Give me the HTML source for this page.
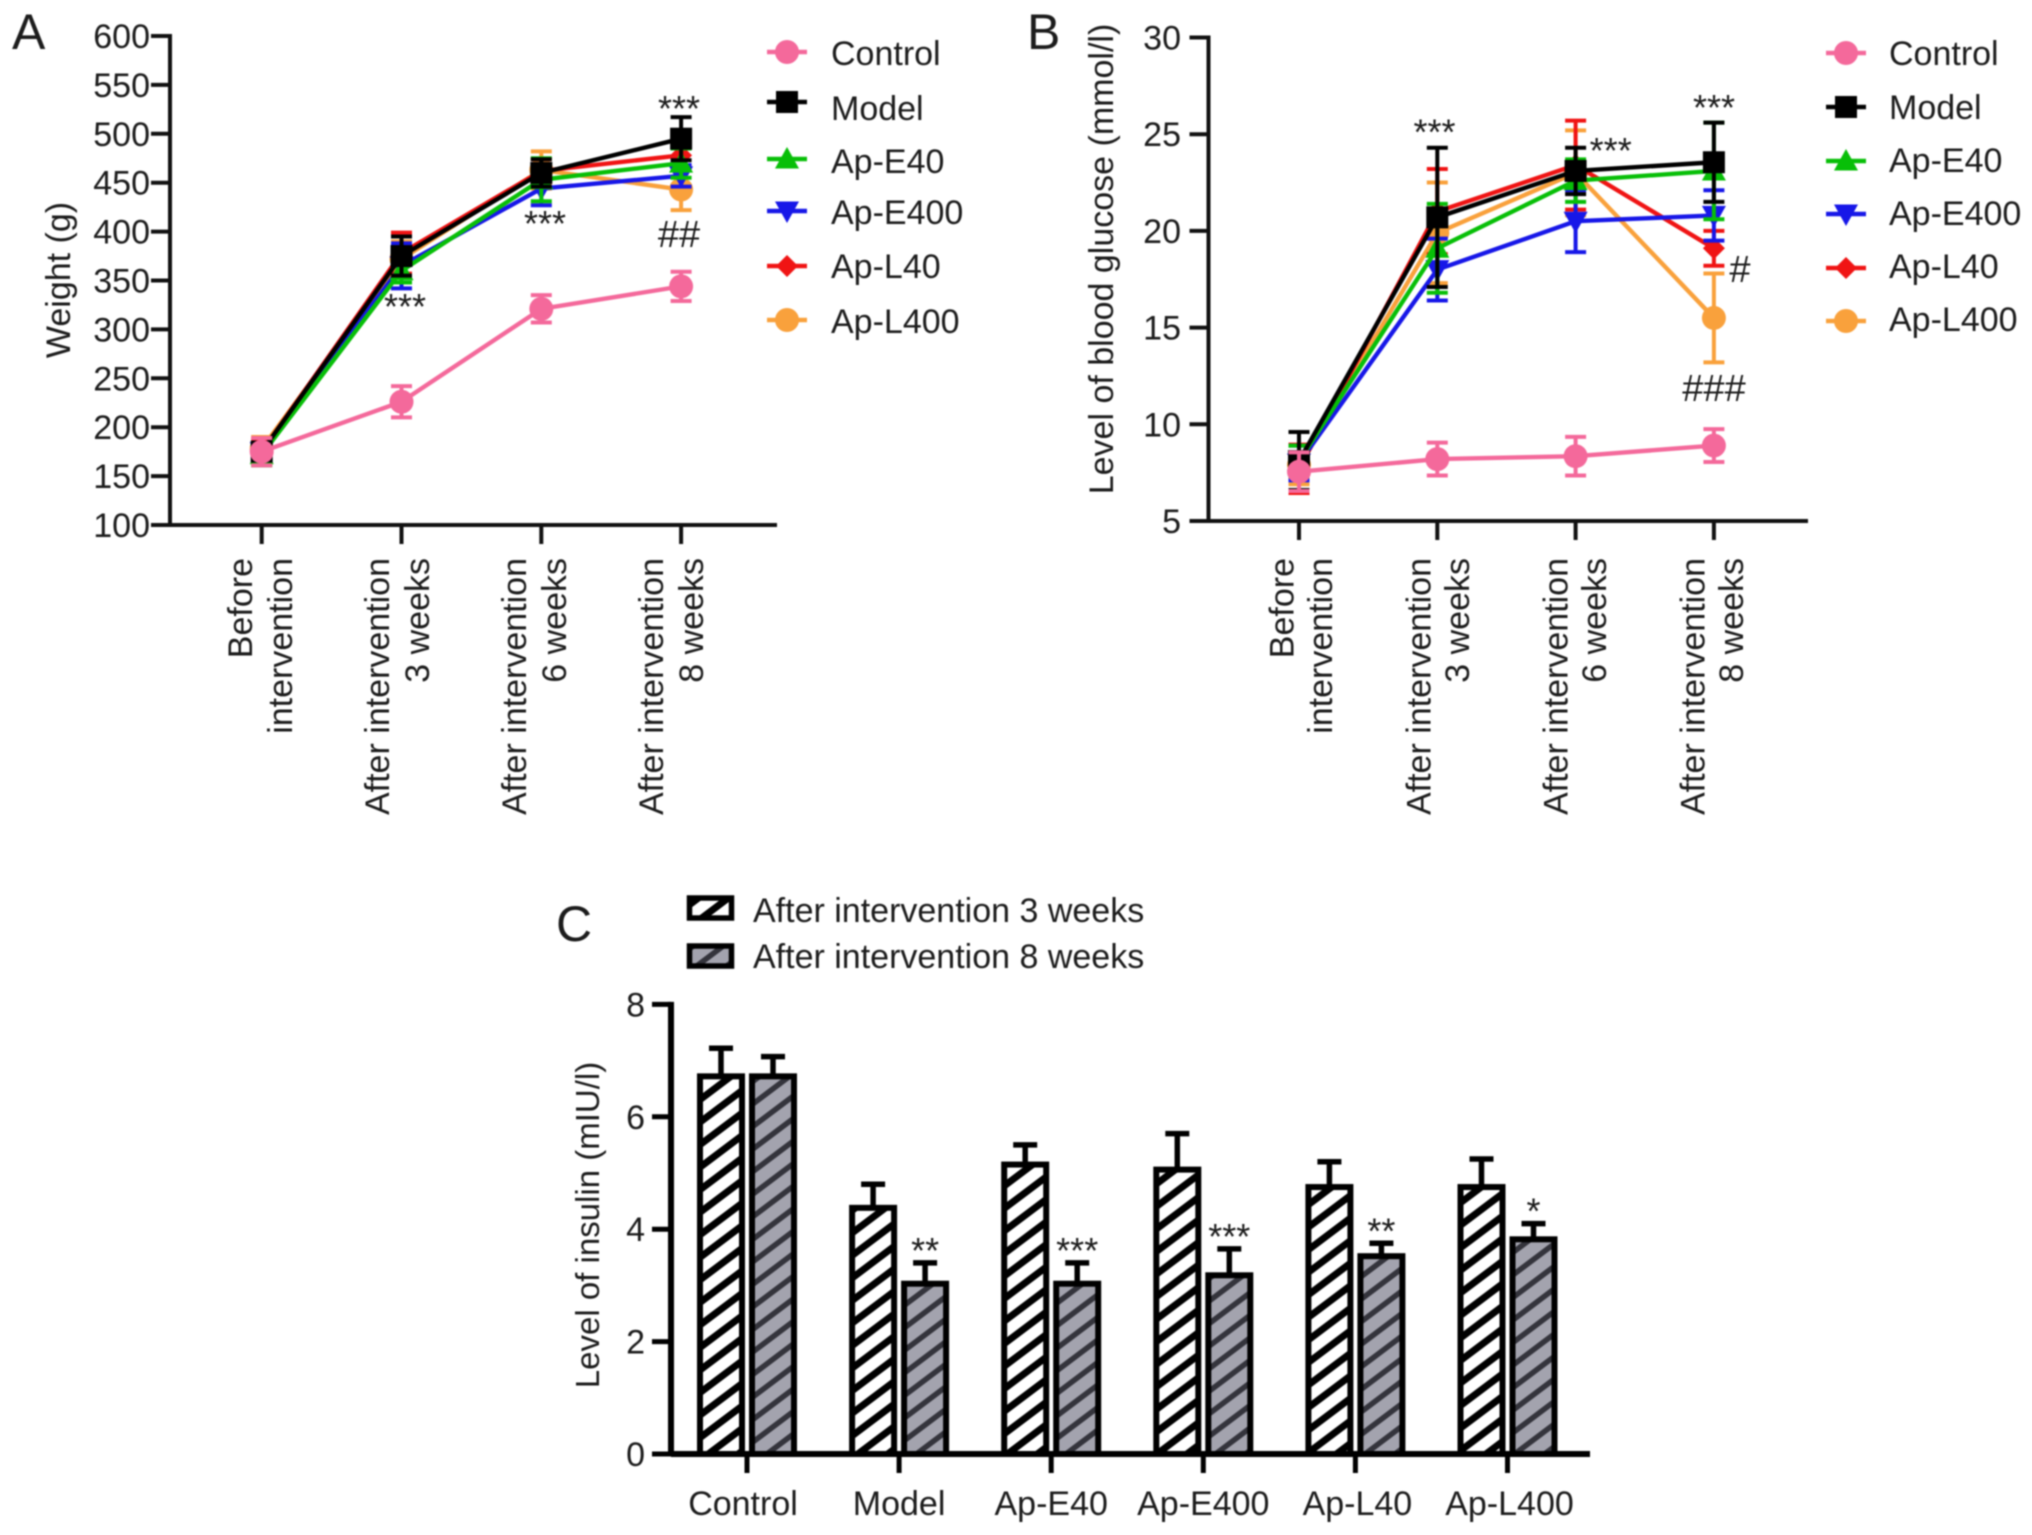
<!DOCTYPE html>
<html lang="en">
<head>
<meta charset="utf-8">
<title>Weight, blood glucose and insulin charts</title>
<style>
html,body{margin:0;padding:0;background:#fff;}
#figure{display:block;width:2032px;height:1535px;filter:blur(0.7px);}
text{font-family:"Liberation Sans",sans-serif;fill:#1c1c1c;font-size:34px;}
</style>
</head>
<body>
<svg id="figure" xmlns="http://www.w3.org/2000/svg" width="2032" height="1535" viewBox="0 0 2032 1535">
  <defs>
    <pattern id="hatch-white" patternUnits="userSpaceOnUse" width="18" height="18" patternTransform="rotate(53)">
      <rect width="18" height="18" fill="#ffffff"/>
      <rect width="7" height="18" fill="#000000"/>
    </pattern>
    <pattern id="hatch-grey" patternUnits="userSpaceOnUse" width="18" height="18" patternTransform="rotate(53)">
      <rect width="18" height="18" fill="#a3a3ae"/>
      <rect width="5.5" height="18" fill="#34343c"/>
    </pattern>
  </defs>
  <g id="panel-a"></g>
  <g id="panel-b"></g>
  <g id="panel-c"></g>
</svg>
<script>
// ---------- shared categories ----------
const timeLabels = [["Before","intervention"],["After intervention","3 weeks"],["After intervention","6 weeks"],["After intervention","8 weeks"]];
const groupNames = ["Control","Model","Ap-E40","Ap-E400","Ap-L40","Ap-L400"];

// ---------- panel A: weight (g) ----------
const weightTicks = [100,150,200,250,300,350,400,450,500,550,600];
const weightControl = [175,226,321,344];
const weightModel   = [175,375,460,495];
const weightE40     = [172,360,453,470];
const weightE400    = [175,365,444,457];
const weightL40     = [175,378,462,478];
const weightL400    = [178,372,463,443];
const weightControlErr = [14,16,14,15];
const weightModelErr   = [9,20,14,22];
const weightE40Err     = [11,12,22,15];
const weightE400Err    = [9,23,17,11];
const weightL40Err     = [12,21,12,12];
const weightL400Err    = [12,18,19,21];

// ---------- panel B: glucose (mmol/l) ----------
const glucoseTicks = [5,10,15,20,25,30];
const glucoseControl = [7.55,8.2,8.35,8.9];
const glucoseModel   = [8.1,20.7,23.1,23.55];
const glucoseE40     = [8.1,19.1,22.6,23.1];
const glucoseE400    = [8.0,18.0,20.5,20.8];
const glucoseL40     = [7.7,21.0,23.4,19.1];
const glucoseL400    = [7.9,19.9,23.0,15.5];
const glucoseControlErr = [1.0,0.85,1.0,0.85];
const glucoseModelErr   = [1.5,3.6,1.2,2.05];
const glucoseE40Err     = [0.8,2.3,1.1,2.5];
const glucoseE400Err    = [0.9,1.6,1.6,1.3];
const glucoseL40Err     = [1.25,2.2,2.3,0.9];
const glucoseL400Err    = [1.0,2.6,2.2,2.3];

// ---------- panel C: insulin (mIU/l) ----------
const insulinTicks = [0,2,4,6,8];
const insulinWeek3 = [6.72,4.38,5.15,5.06,4.75,4.75];
const insulinWeek8 = [6.72,3.03,3.03,3.18,3.52,3.82];
const insulinWeek3Err = [0.5,0.42,0.35,0.64,0.45,0.5];
const insulinWeek8Err = [0.35,0.37,0.37,0.47,0.23,0.28];
const insulinMarks = ["","**","***","***","**","*"];
const insulinLegend = ["After intervention 3 weeks","After intervention 8 weeks"];

const NS = "http://www.w3.org/2000/svg";
const colors = {Control:"#f4699b",Model:"#000000","Ap-E40":"#08bf08","Ap-E400":"#1717e8","Ap-L40":"#f01414","Ap-L400":"#f9a13c"};
const markers = {Control:"circle",Model:"square","Ap-E40":"up","Ap-E400":"down","Ap-L40":"diamond","Ap-L400":"circle"};
const drawOrder = [5,4,3,2,1,0];

function mk(parent, tag, attrs, txt){
  const el = document.createElementNS(NS, tag);
  for (const k in attrs) el.setAttribute(k, attrs[k]);
  if (txt !== undefined) el.textContent = txt;
  parent.appendChild(el);
  return el;
}
function slug(s){ return s.toLowerCase().replace(/[^a-z0-9]+/g,'-'); }

function drawMarker(parent, kind, x, y, color){
  let el;
  if (kind === "circle") el = mk(parent,"circle",{cx:x,cy:y,r:12,fill:color});
  else if (kind === "square") el = mk(parent,"rect",{x:x-11,y:y-11,width:22,height:22,fill:color});
  else if (kind === "up") el = mk(parent,"polygon",{points:`${x},${y-12} ${x+12},${y+9.5} ${x-12},${y+9.5}`,fill:color});
  else if (kind === "down") el = mk(parent,"polygon",{points:`${x},${y+12} ${x+12},${y-9.5} ${x-12},${y-9.5}`,fill:color});
  else el = mk(parent,"polygon",{points:`${x},${y-11} ${x+11},${y} ${x},${y+11} ${x-11},${y}`,fill:color});
  
  
  return el;
}

function drawLinePanel(cfg){
  const g = document.getElementById(cfg.id);
  const x = cfg.x, y = cfg.y;

  const panelLetter = mk(g,"text",{x:cfg.letterX,y:49,style:"font-size:50px"},cfg.letter);
  
  

  const axisY = mk(g,"line",{x1:cfg.axisX,x2:cfg.axisX,y1:y(cfg.ticks[cfg.ticks.length-1])-2,y2:y(cfg.ticks[0])+2,stroke:"#111",'stroke-width':4});
  
  
  const axisX = mk(g,"line",{x1:cfg.axisX-2,x2:cfg.axisEnd,y1:y(cfg.ticks[0]),y2:y(cfg.ticks[0]),stroke:"#111",'stroke-width':4});
  
  

  cfg.ticks.forEach(t=>{
    const tick = mk(g,"line",{x1:cfg.axisX-19,x2:cfg.axisX,y1:y(t),y2:y(t),stroke:"#111",'stroke-width':4});
    
    
    const lab = mk(g,"text",{x:cfg.tickLabelX,y:y(t)+12,'text-anchor':'end'},String(t));
    
    
  });

  timeLabels.forEach((lines,i)=>{
    const tick = mk(g,"line",{x1:x(i),x2:x(i),y1:y(cfg.ticks[0]),y2:y(cfg.ticks[0])+19,stroke:"#111",'stroke-width':4});
    
    
    lines.forEach((ln,j)=>{
      const bx = cfg.labelX(i)+j*cfg.labelGap;
      const lab = mk(g,"text",{x:bx,y:558,'text-anchor':'end',transform:`rotate(-90 ${bx} 558)`},ln);
      
      
    });
  });

  const title = mk(g,"text",{x:cfg.titleX,y:cfg.titleY,'text-anchor':'middle',transform:`rotate(-90 ${cfg.titleX} ${cfg.titleY})`},cfg.title);
  
  

  drawOrder.forEach(si=>{
    const name = groupNames[si], c = colors[name], vals = cfg.series[si], errs = cfg.errors[si];
    const sg = mk(g,"g",{});
    
    
    vals.forEach((v,i)=>{
      const top = y(v+errs[i]), bot = y(v-errs[i]), px = x(i);
      const eb = mk(sg,"path",{d:`M${px} ${top}V${bot}M${px-10.5} ${top}H${px+10.5}M${px-10.5} ${bot}H${px+10.5}`,fill:"none",stroke:c,'stroke-width':4});
      
      
    });
    const line = mk(sg,"polyline",{points:vals.map((v,i)=>x(i)+","+y(v)).join(" "),fill:"none",stroke:c,'stroke-width':4.4});
    
    
    vals.forEach((v,i)=>drawMarker(sg,markers[name],x(i),y(v),c));
  });

  groupNames.forEach((name,si)=>{
    const lg = mk(g,"g",{});
    
    
    const my = cfg.legendMarkerY[si];
    const sw = mk(lg,"line",{x1:cfg.legendX-20,x2:cfg.legendX+20,y1:my,y2:my,stroke:colors[name],'stroke-width':4.4});
    
    
    drawMarker(lg,markers[name],cfg.legendX,my,colors[name]);
    const lab = mk(lg,"text",{x:cfg.legendTextX,y:cfg.legendTextY[si]},name);
    
    
  });

  cfg.notes.forEach(n=>{
    const isStar = n[0].charAt(0)==="*";
    const t = mk(g,"text",{x:n[1],y:n[2]+(isStar?16:13),'text-anchor':'middle',style:isStar?"font-size:36px":"font-size:38px"},n[0]);
    
    
  });
}

drawLinePanel({
  id:"panel-a",letter:"A",letterX:12,title:"Weight (g)",titleX:70,titleY:280,
  axisX:170,axisEnd:777,tickLabelX:150,ticks:weightTicks,
  x:i=>261.7+139.8*i,
  y:v=>525-(v-100)*0.978,
  labelX:i=>252+137*i,labelGap:40,
  series:[weightControl,weightModel,weightE40,weightE400,weightL40,weightL400],
  errors:[weightControlErr,weightModelErr,weightE40Err,weightE400Err,weightL40Err,weightL400Err],
  legendX:787,legendTextX:831,
  legendMarkerY:[52,102,159,211,266,320],
  legendTextY:[65,120,173,224,278,333],
  notes:[["***",679,105],["***",545,220],["***",405,303],["##",679,234]]
});

drawLinePanel({
  id:"panel-b",letter:"B",letterX:1027,title:"Level of blood glucose (mmol/l)",titleX:1113,titleY:259,
  axisX:1208.5,axisEnd:1808,tickLabelX:1181,ticks:glucoseTicks,
  x:i=>1299+138.3*i,
  y:v=>521-(v-5)*19.34,
  labelX:i=>1293.5+137*i,labelGap:38.5,
  series:[glucoseControl,glucoseModel,glucoseE40,glucoseE400,glucoseL40,glucoseL400],
  errors:[glucoseControlErr,glucoseModelErr,glucoseE40Err,glucoseE400Err,glucoseL40Err,glucoseL400Err],
  legendX:1846,legendTextX:1889,
  legendMarkerY:[53,107,161,214,268,321],
  legendTextY:[65,119,172,225,278,331],
  notes:[["***",1434.5,128.6],["***",1610.7,147],["***",1714,104],["#",1740,269],["###",1714,388]]
});

(function(){
  const g = document.getElementById("panel-c");
  const y = v=>1454-v*56.2;
  const gx = i=>747+152.1*i;
  const barW = 42, off = 26;

  const letter = mk(g,"text",{x:556,y:941,style:"font-size:50px"},"C");
  
  

  insulinLegend.forEach((txt,i)=>{
    const lg = mk(g,"g",{});
    
    
    const sw = mk(lg,"rect",{x:689.5,y:898+i*48,width:42,height:20,fill:i===0?"url(#hatch-white)":"url(#hatch-grey)",stroke:"#000",'stroke-width':5.5});
    
    
    const t = mk(lg,"text",{x:753,y:922+i*46},txt);
    
    
  });

  function bar(v,e,px,fill,nm){
    const eb = mk(g,"path",{d:`M${px} ${y(v)}V${y(v+e)}M${px-12} ${y(v+e)}H${px+12}`,fill:"none",stroke:"#000",'stroke-width':5.5});
    
    
    const r = mk(g,"rect",{x:px-barW/2,y:y(v),width:barW,height:y(0)-y(v),fill:fill,stroke:"#000",'stroke-width':6});
    
    
  }
  groupNames.forEach((name,i)=>{
    bar(insulinWeek3[i],insulinWeek3Err[i],gx(i)-off,"url(#hatch-white)",'bar-week-3-' + slug(name));
    bar(insulinWeek8[i],insulinWeek8Err[i],gx(i)+off,"url(#hatch-grey)",'bar-week-8-' + slug(name));
    if (insulinMarks[i]) {
      const m = mk(g,"text",{x:gx(i)+off,y:y(insulinWeek8[i]+insulinWeek8Err[i]),'text-anchor':'middle',style:'font-size:36px'},insulinMarks[i]);
      
      
    }
    const tick = mk(g,"line",{x1:gx(i),x2:gx(i),y1:y(0),y2:y(0)+19,stroke:"#000",'stroke-width':5});
    
    
    const lab = mk(g,"text",{x:gx(i)-(i===0?4:0)+(i>=4?2:0),y:1515,'text-anchor':'middle'},name);
    
    
  });

  const axisY = mk(g,"line",{x1:671,x2:671,y1:y(8)-2.5,y2:y(0)+2.5,stroke:"#000",'stroke-width':6});
  
  
  const axisX = mk(g,"line",{x1:671,x2:1590,y1:y(0),y2:y(0),stroke:"#000",'stroke-width':6});
  
  

  insulinTicks.forEach(t=>{
    const tick = mk(g,"line",{x1:652,x2:671,y1:y(t),y2:y(t),stroke:"#000",'stroke-width':5});
    
    
    const lab = mk(g,"text",{x:645,y:y(t)+12,'text-anchor':'end'},String(t));
    
    
  });

  const title = mk(g,"text",{x:599,y:1225,'text-anchor':'middle',transform:'rotate(-90 599 1225)',style:'font-size:33px'},"Level of insulin (mIU/l)");
  
  
})();
</script>
</body>
</html>
